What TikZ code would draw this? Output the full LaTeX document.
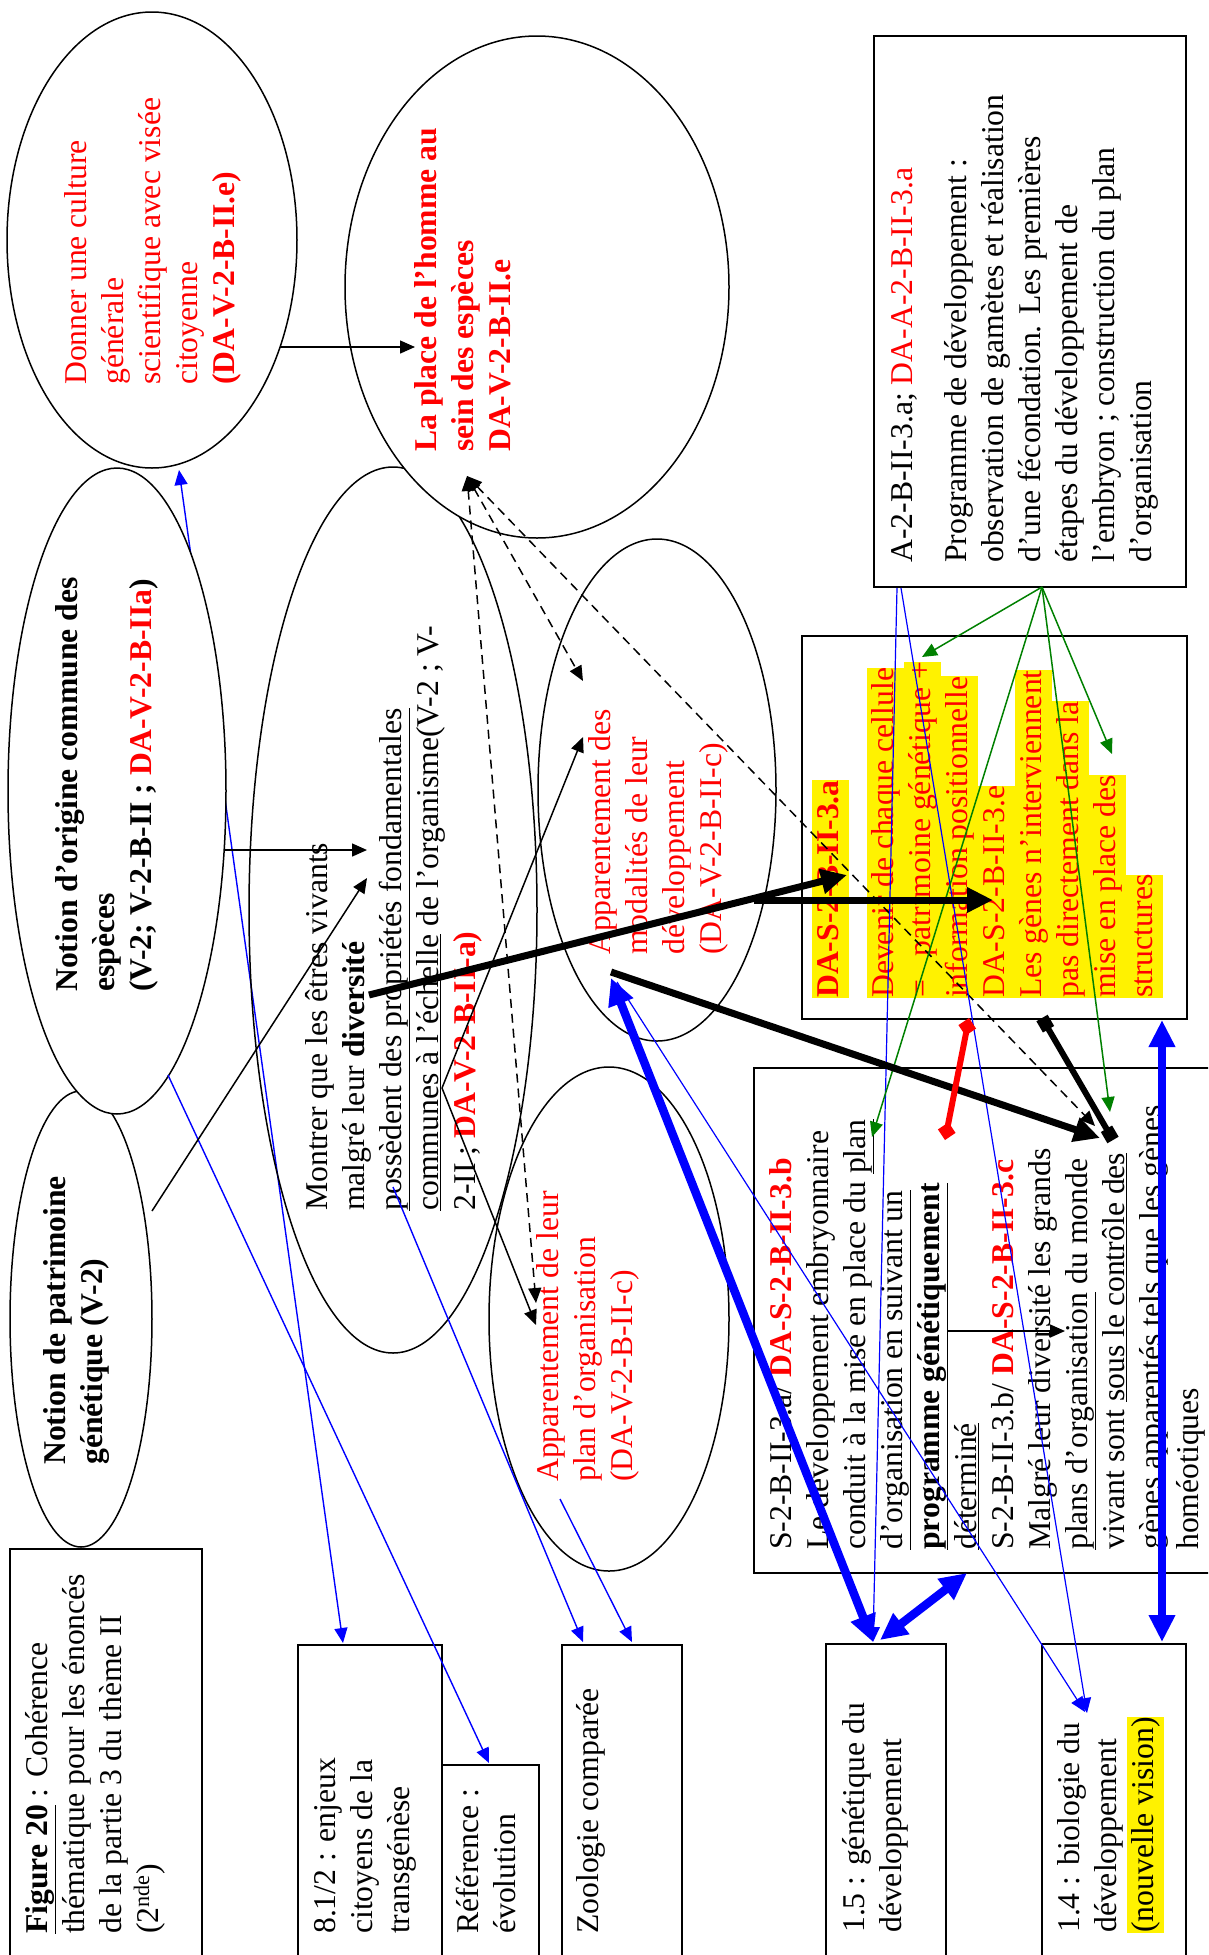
\documentclass[tikz,border=0pt]{standalone}
\usepackage{fontspec}
\setmainfont{Liberation Serif}
\usetikzlibrary{shapes.geometric,arrows.meta}
\pgfdeclarelayer{bg}
\pgfsetlayers{bg,main}
\newcommand\fsz{\fontsize{31.7}{37}\selectfont}
\newcommand\hlt[1]{{\setlength{\fboxsep}{0pt}\colorbox{yellow}{\strut #1}}}
\definecolor{dgreen}{RGB}{0,128,0}
\begin{document}
\begin{tikzpicture}[x=1pt,y=-1pt,
 ell/.style={draw, ellipse, line width=1.5pt, inner sep=0pt},
 boxn/.style={draw, rectangle, line width=1.5pt, inner sep=0pt, anchor=north west},
 txt/.style={rotate=90, anchor=north west, inner sep=0pt, align=left, font=\fsz},
 thinblk/.style={line width=1.5pt, -{Triangle[length=15pt,width=13pt]}},
 thinblue/.style={blue, line width=1.4pt, -{Triangle[length=15pt,width=13pt]}},
 grn/.style={dgreen, line width=1.5pt, -{Triangle[length=15pt,width=13pt]}},
 dsh/.style={line width=1.5pt, dash pattern=on 9pt off 6pt, {Triangle[length=15pt,width=13pt]}-{Triangle[length=15pt,width=13pt]}},
 thickblk/.style={line width=7pt, -{Triangle[length=26pt,width=24pt]}},
 thickblue/.style={blue, line width=8.5pt, {Triangle[length=27pt,width=25pt]}-{Triangle[length=27pt,width=25pt]}},
 sqline/.style={line width=6pt, {Square[length=13pt,width=13pt]}-{Square[length=13pt,width=13pt]}},
 redline/.style={red, line width=6pt, {Diamond[length=18pt,width=18pt]}-{Diamond[length=18pt,width=18pt]}}]
\useasboundingbox (0,0) rectangle (1208,1955);
\clip (0,0) rectangle (1208,1955);

% ellipses
\node[ell, minimum width=288pt, minimum height=886pt] (e5) at (393,910) {};
\node[ell, fill=white, minimum width=384pt, minimum height=502pt] (e2) at (537,287) {};
\node[ell, fill=white, minimum width=290pt, minimum height=456pt] (e1) at (152,240) {};
\node[ell, fill=white, minimum width=142pt, minimum height=456pt] (e4) at (81,1319) {};
\node[ell, fill=white, minimum width=218pt, minimum height=646pt] (e3) at (117,791) {};
\node[ell, minimum width=238pt, minimum height=502pt] (e6) at (657,790) {};
\node[ell, minimum width=240pt, minimum height=504pt] (e7) at (609,1319) {};

% boxes
\node[boxn, minimum width=312pt, minimum height=551pt] (b1) at (873,35) {};
\node[boxn, minimum width=385pt, minimum height=383pt] (b2) at (801,635) {};
\node[boxn, minimum width=470pt, minimum height=505pt] (b3) at (753,1067) {};
\node[boxn, minimum width=192pt, minimum height=420pt] (b4) at (9,1548) {};
\node[boxn, minimum width=144pt, minimum height=320pt] (b5) at (297,1644) {};
\node[boxn, minimum width=97pt, minimum height=200pt] (b6) at (441,1764) {};
\node[boxn, minimum width=120pt, minimum height=320pt] (b7) at (561,1644) {};
\node[boxn, minimum width=120pt, minimum height=320pt] (b8) at (825,1643) {};
\node[boxn, minimum width=144pt, minimum height=320pt] (b9) at (1041,1643) {};

% texts
\node[txt, text=red] (t1) at (60,385) {\strut Donner une culture\\générale\\scientifique avec visée\\citoyenne\\\textbf{(DA-V-2-B-II.e)}};
\node[txt, text=red, font=\fsz\bfseries] (t2) at (410,452) {\strut La place de l’homme au\\sein des espèces\\DA-V-2-B-II.e};
\node[txt, font=\fsz\bfseries] (t3) at (51,992) {\strut Notion d’origine commune des\\espèces\\(V-2; V-2-B-II ; \textcolor{red}{DA-V-2-B-IIa})};
\node[txt, font=\fsz\bfseries] (t4) at (39,1465) {\strut Notion de patrimoine\\génétique (V-2)};
\node[txt] (t5) at (301,1211) {\strut Montrer que les êtres vivants\\malgré leur \textbf{diversité}\\\underline{possèdent des propriétés fondamentales}\\\underline{communes à l’échelle} de l’organisme(V-2 ; V-\\2-II ; \textcolor{red}{\textbf{DA-V-2-B-II-a)}}};
\node[txt, text=red] (t6) at (584,955) {\strut Apparentement des\\modalités de leur\\développement\\(DA-V-2-B-II-c)};
\node[txt, text=red] (t7) at (532,1482) {\strut Apparentement de leur\\plan d’organisation\\(DA-V-2-B-II-c)};
\node[txt] (tb1) at (886,563) {\strut A-2-B-II-3.a; \textcolor{red}{DA-A-2-B-II-3.a}\\[17pt]Programme de développement :\\observation de gamètes et réalisation\\d’une fécondation. Les premières\\étapes du développement de\\l’embryon ; construction du plan\\d’organisation};
\node[txt, text=red] (tb2) at (812,998) {\hlt{\textbf{DA-S-2-B-II-3.a}}\\[18pt]\hlt{Devenir de chaque cellule}\\\hlt{=\ \ \ patrimoine génétique +}\\\hlt{information positionnelle}\\\hlt{DA-S-2-B-II-3.e}\\\hlt{Les gènes n’interviennent}\\\hlt{pas directement dans la}\\\hlt{mise en place des}\\\hlt{structures}};
\node[txt] (tb3) at (765,1550) {\strut S-2-B-II-3.a/ \textcolor{red}{\textbf{DA-S-2-B-II-3.b}}\\Le développement embryonnaire\\conduit à la mise en place du \underline{plan}\\\underline{d’organisation en suivant un}\\\underline{\textbf{programme génétiquement}}\\\underline{déterminé}\\S-2-B-II-3.b/ \textcolor{red}{\textbf{DA-S-2-B-II-3.c}}\\Malgré leur diversité les grands\\\underline{plans d’organisation} du monde\\vivant sont \underline{sous le contrôle des}\\gènes apparentés tels que les gènes\\homéotiques};
\node[txt] (tb4) at (21,1934) {\strut\underline{\textbf{Figure 20}} : Cohérence\\thématique pour les énoncés\\de la partie 3 du thème II\\(2\textsuperscript{nde})};
\node[txt] (tb5) at (309,1934) {\strut 8.1/2 : enjeux\\citoyens de la\\transgénèse};
\node[txt] (tb6) at (452,1934) {\strut Référence :\\évolution};
\node[txt] (tb7) at (572,1934) {\strut Zoologie comparée};
\node[txt] (tb8) at (838,1933) {\strut 1.5 : génétique du\\développement};
\node[txt] (tb9) at (1053,1933) {\strut 1.4 : biologie du\\développement\\\hlt{(nouvelle vision)}};

% connector end points
\coordinate (pA1) at (280,347); \coordinate (pA2) at (415,347);
\coordinate (pB1) at (179,470); \coordinate (pB2) at (343,1643);
\coordinate (pC1) at (168,1075); \coordinate (pC2) at (489,1763);
\coordinate (pD1) at (225,850); \coordinate (pD2) at (367,850);
\coordinate (pE1) at (152,1211); \coordinate (pE2) at (367,878);
\coordinate (pF0) at (467,476); \coordinate (pF1) at (536,1303);
\coordinate (pF2) at (583,681); \coordinate (pF3) at (1095,1126);
\coordinate (pG0) at (442,1088); \coordinate (pG1) at (583,737); \coordinate (pG2) at (536,1325);
\coordinate (pH0) at (369,995); \coordinate (pH1) at (847,875);
\coordinate (pH2) at (754,900); \coordinate (pH3) at (993,900);
\coordinate (pI0) at (611,972); \coordinate (pI1) at (1100,1138);
\coordinate (pJ0) at (1042,1018); \coordinate (pJ1) at (1113,1140);
\coordinate (pK0) at (969,1018); \coordinate (pK1) at (945,1140);
\coordinate (pL0) at (611,978); \coordinate (pL1) at (873,1642);
\coordinate (pM0) at (880,1640); \coordinate (pM1) at (967,1573);
\coordinate (pN0) at (1162,1020); \coordinate (pN1) at (1162,1642);
\coordinate (pO0) at (617,982); \coordinate (pO1) at (1085,1712);
\coordinate (pO2) at (897,588); \coordinate (pO3) at (873,1642);
\coordinate (pO4) at (901,588); \coordinate (pO5) at (1087,1713);
\coordinate (pP0) at (393,1187); \coordinate (pP1) at (583,1642);
\coordinate (pQ0) at (560,1499); \coordinate (pQ1) at (632,1642);
\coordinate (pR0) at (1042,587); \coordinate (pR1) at (922,657);
\coordinate (pR2) at (872,1137); \coordinate (pR3) at (1112,754); \coordinate (pR4) at (1110,1112);
\coordinate (pS0) at (947,1331); \coordinate (pS1) at (1065,1331);

\begin{pgfonlayer}{bg}
\draw[thinblue, {Triangle[length=15pt,width=13pt]}-{Triangle[length=15pt,width=13pt]}] (pB2) -- (pB1);
\end{pgfonlayer}

\draw[thinblk] (pA1) -- (pA2);
\draw[thinblue] (pC1) -- (pC2);
\draw[thinblk] (pD1) -- (pD2);
\draw[thinblk] (pE1) -- (pE2);
\draw[dsh] (pF0) -- (pF1);
\draw[dsh] (pF0) -- (pF2);
\draw[dsh] (pF0) -- (pF3);
\draw[thinblk] (pG0) -- (pG1);
\draw[thinblk] (pG0) -- (pG2);
\draw[thinblue, line width=1.2pt] (pO0) -- (pO1);
\draw[thinblue, line width=1.2pt] (pO2) -- (pO3);
\draw[thinblue, line width=1.2pt] (pO4) -- (pO5);
\draw[thinblue] (pP0) -- (pP1);
\draw[thinblue] (pQ0) -- (pQ1);
\draw[grn] (pR0) -- (pR1);
\draw[grn] (pR0) -- (pR2);
\draw[grn] (pR0) -- (pR3);
\draw[grn] (pR0) -- (pR4);
\draw[thinblk] (pS0) -- (pS1);
\draw[thickblk] (pH0) -- (pH1);
\draw[thickblk] (pH2) -- (pH3);
\draw[thickblk] (pI0) -- (pI1);
\draw[sqline] (pJ0) -- (pJ1);
\draw[redline] (pK0) -- (pK1);
\draw[thickblue] (pL0) -- (pL1);
\draw[thickblue] (pM0) -- (pM1);
\draw[thickblue] (pN0) -- (pN1);
\end{tikzpicture}
\end{document}
